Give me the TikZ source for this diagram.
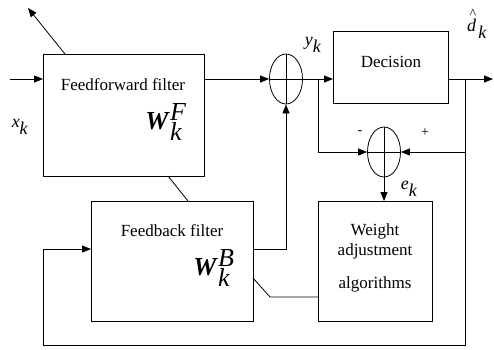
\documentclass[tikz,border=0pt]{standalone}
\usepackage{fontspec}
\setmainfont{Liberation Serif}
\usetikzlibrary{arrows.meta,shapes.geometric,positioning}

\tikzset{
  blocco/.style={draw, line width=0.8pt, rectangle, anchor=north west, inner sep=0pt},
  somma/.style={draw, ellipse, line width=0.8pt, minimum width=33pt, minimum height=50pt, inner sep=0pt},
  freccia/.style={line width=0.8pt, -{Triangle[length=9pt,width=7pt]}},
  linea/.style={line width=0.8pt},
  testo/.style={font=\fontsize{17}{19}\selectfont, inner sep=0pt},
  segno/.style={font=\fontsize{14}{16}\selectfont, inner sep=0pt},
  simbolo/.style={font=\fontsize{18}{20}\selectfont, inner sep=0pt},
  peso/.style={font=\fontsize{26}{26}\selectfont, inner sep=0pt},
}

\begin{document}
\begin{tikzpicture}[x=1pt,y=-1pt]
        \useasboundingbox (0,0) rectangle (494,349);

        % Blocchi
        \node[blocco, minimum width=161pt, minimum height=122pt] (ff) at (43,54) {};
        \node[blocco, minimum width=162pt, minimum height=120pt] (fb) at (91,201) {};
        \node[blocco, minimum width=115pt, minimum height=72pt] (dec) at (333,31) {};
        \node[blocco, minimum width=114pt, minimum height=120pt] (wa) at (318,201) {};

        % Sommatori
        \node[somma] (s1) at (286,79) {};
        \node[somma] (s2) at (384,152) {};
        \draw[linea] (s1.north) -- (s1.south) (s1.west) -- (s1.east);
        \draw[linea] (s2.north) -- (s2.south) (s2.west) -- (s2.east);

        % Testi dei blocchi
        \node[testo] (tff) at (123,85) {Feedforward filter};
        \node[peso] (wf) at (166,122) {\textbf{\textit{W}}$_{\textit{k}}^{\textit{F}}$};
        \node[testo] (tfb) at (172,231) {Feedback filter};
        \node[peso] (wb) at (214,268) {\textbf{\textit{W}}$_{\textit{k}}^{\textit{B}}$};
        \node[testo] (tdec) at (391,62) {Decision};
        \node[testo] (twa1) at (375,231) {Weight};
        \node[testo] (twa2) at (375,251) {adjustment};
        \node[testo] (twa3) at (375,284) {algorithms};

        % Etichette dei segnali
        \node[simbolo] (xk) at (20,127) {\textit{x}$_{\textit{k}}$};
        \node[simbolo] (yk) at (313,45) {\textit{y}$_{\textit{k}}$};
        \node[simbolo] (ek) at (409,189) {\textit{e}$_{\textit{k}}$};
        \node[simbolo] (dk) at (477,29) {\textit{d}$_{\,\textit{k}}$};
        \node[segno] (cappello) at (473,14) {\textasciicircum};
        \node[segno] (meno) at (360,133) {-};
        \node[segno] (piu) at (425,133) {+};

        % Punti di appoggio
        \coordinate (ingresso) at (10,79);
        \coordinate (ffa) at (65,54);
        \coordinate (alto) at (28,8);
        \coordinate (yb) at (318,79);
        \coordinate (uscita) at (493,79);
        \coordinate (db) at (465,79);
        \coordinate (basso) at (43,345);
        \coordinate (fbi) at (91,249);
        \coordinate (fbo) at (253,249);

        % Collegamenti
        \draw[freccia] (ingresso) -- (ingresso -| ff.west);
        \draw[freccia] (ffa) -- (alto);
        \draw[freccia] (s1.west -| ff.east) -- (s1.west);
        \draw[freccia] (s1.east) -- (s1.east -| dec.west);
        \draw[freccia] (yb) |- (s2.west);
        \draw[freccia] (uscita -| dec.east) -- (uscita);
        \draw[freccia] (db) |- (s2.east);
        \draw[freccia] (db) -- (db |- basso) -- (basso) |- (fbi);
        \draw[freccia] (s2.south) -- (s2.south |- wa.north);
        \draw[freccia] (fbo) -| (s1.south);
        \draw[linea] (168,176) -- (188,201);
        \draw[linea] (wa.west |- 0,297) -- (270,297) -- (253,278);
    \end{tikzpicture}
\end{document}
